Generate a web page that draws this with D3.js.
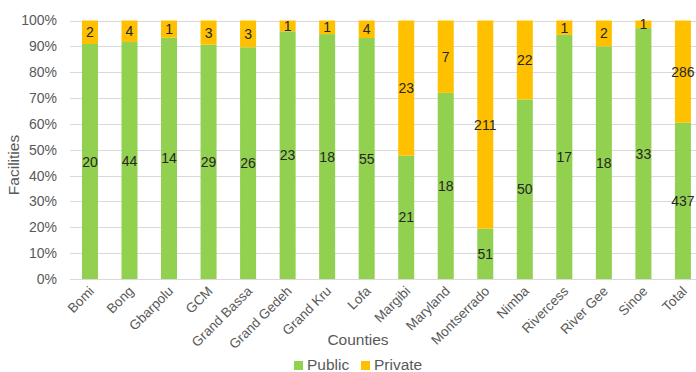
<!DOCTYPE html>
<html><head><meta charset="utf-8">
<script src="https://cdn.jsdelivr.net/npm/d3@7/dist/d3.min.js"></script>
<style>body{margin:0;background:#fff}svg{display:block}text{font-family:"Liberation Sans",Arial,sans-serif}</style>
</head><body><svg id="c" width="696" height="372"></svg>
<script>
const categories = ["Bomi","Bong","Gbarpolu","GCM","Grand Bassa","Grand Gedeh","Grand Kru","Lofa","Margibi","Maryland","Montserrado","Nimba","Rivercess","River Gee","Sinoe","Total"];
const publicVals = [20,44,14,29,26,23,18,55,21,18,51,50,17,18,33,437];
const privateVals = [2,4,1,3,3,1,1,4,23,7,211,22,1,2,1,286];
const yTicks = [0,0.1,0.2,0.3,0.4,0.5,0.6,0.7,0.8,0.9,1];
const seriesNames = ["Public","Private"];
const colors = {Public:"#92D050", Private:"#FFC000"};

const svg = d3.select("#c");
const x = d3.scaleBand().domain(categories).range([70.2, 702.7]).paddingInner(0.595).paddingOuter(0.2975);
const y = d3.scaleLinear().domain([0,1]).range([279, 20.5]);

// gridlines
svg.append("g").selectAll("line").data(yTicks).join("line")
  .attr("x1",70).attr("x2",696).attr("y1",d=>Math.round(y(d))+0.5).attr("y2",d=>Math.round(y(d))+0.5)
  .attr("stroke","#d9d9d9").attr("stroke-width",1);

// y axis labels
const yAxis = d3.axisLeft(y).tickValues(yTicks).tickFormat(d3.format(".0%")).tickSize(0).tickPadding(0);
const gy = svg.append("g").attr("transform","translate(57,0)").call(yAxis);
gy.select(".domain").remove();
gy.selectAll("text").attr("font-size","14px").attr("fill","#595959").attr("font-family","Liberation Sans, Arial, sans-serif");

const data = categories.map((c,i)=>{const t=publicVals[i]+privateVals[i];return {c,pub:publicVals[i],priv:privateVals[i],pp:publicVals[i]/t};});

const bw = x.bandwidth();
const g = svg.append("g");
g.selectAll("rect.pub").data(data).join("rect").attr("class","pub")
  .attr("x",d=>x(d.c)).attr("width",bw).attr("y",d=>y(d.pp)).attr("height",d=>y(0)-y(d.pp)).attr("fill",colors.Public);
g.selectAll("rect.priv").data(data).join("rect").attr("class","priv")
  .attr("x",d=>x(d.c)).attr("width",bw).attr("y",y(1)).attr("height",d=>y(d.pp)-y(1)).attr("fill",colors.Private);

// data labels
g.selectAll("text.lp").data(data).join("text").attr("class","lp")
  .attr("x",d=>x(d.c)+bw/2).attr("y",d=>(y(0)+y(d.pp))/2).attr("dy","0.36em")
  .attr("text-anchor","middle").attr("font-size","14px").attr("fill","#262626").text(d=>d.pub);
g.selectAll("text.lv").data(data).join("text").attr("class","lv")
  .attr("x",d=>x(d.c)+bw/2).attr("y",d=>(y(1)+y(d.pp))/2).attr("dy","0.36em")
  .attr("text-anchor","middle").attr("font-size","14px").attr("fill","#262626").text(d=>d.priv);

// x axis labels
const xAxis = d3.axisBottom(x).tickSize(0).tickPadding(0);
const gx = svg.append("g").attr("transform","translate(0,279)").call(xAxis);
gx.select(".domain").remove();
gx.selectAll("text").attr("font-size","13.5px").attr("fill","#595959").attr("font-family","Liberation Sans, Arial, sans-serif")
  .attr("text-anchor","end").attr("dy",null).attr("y",0)
  .attr("transform","translate(5,13) rotate(-45)");

// axis titles
svg.append("text").attr("x",358).attr("y",345).attr("text-anchor","middle").attr("font-size","15.5px").attr("fill","#595959").text("Counties");
svg.append("text").attr("transform","translate(19,165) rotate(-90)").attr("text-anchor","middle").attr("font-size","15.5px").attr("fill","#595959").text("Facilities");

// legend
const leg = svg.append("g");
const lx = [294, 361];
seriesNames.forEach((s,i)=>{
  leg.append("rect").attr("x",lx[i]).attr("y",361).attr("width",9).attr("height",9).attr("fill",colors[s]);
  leg.append("text").attr("x",lx[i]+13).attr("y",370).attr("font-size","15.5px").attr("fill","#595959").text(s);
});
</script></body></html>
